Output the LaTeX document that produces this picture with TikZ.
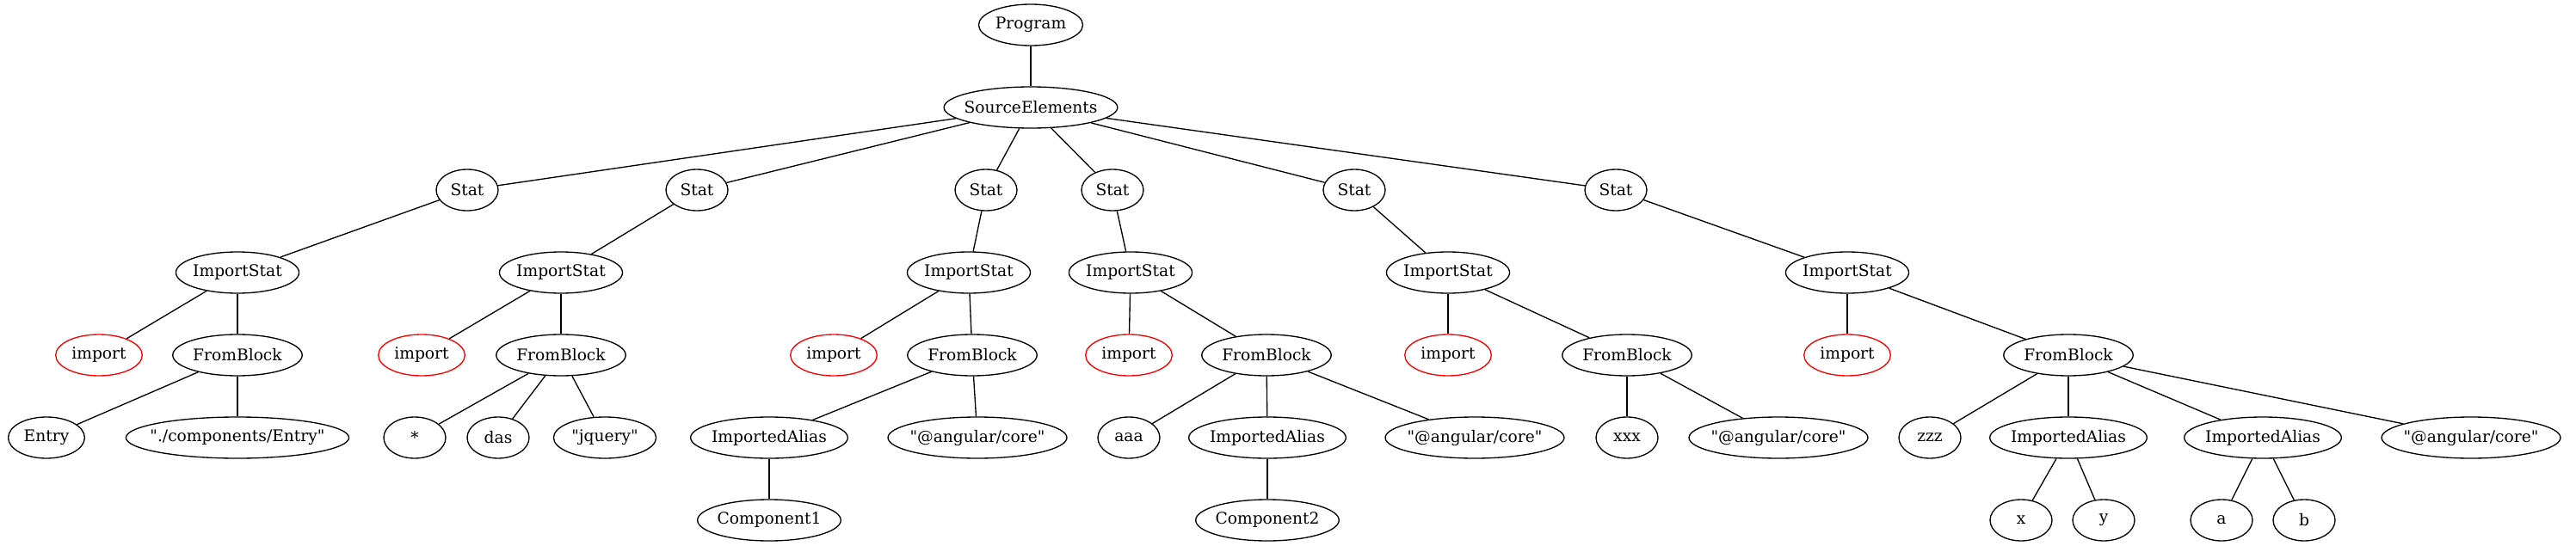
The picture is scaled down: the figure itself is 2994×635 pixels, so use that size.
\documentclass[tikz,border=0pt]{standalone}
\usepackage{fontspec}
\setmainfont{DejaVu Serif}[Ligatures=TeXOff]
\newfontfamily\tms{Liberation Serif}[Ligatures=TeXOff]
\usetikzlibrary{shapes.geometric}
% label set in DejaVu Serif on a box as wide as in Times
\newlength\lblw
\newcommand\lbl[1]{\settowidth\lblw{\tms #1}\makebox[\lblw]{#1}}
\begin{document}
\begin{tikzpicture}[x=0.75pt, y=-0.75pt, line width=1pt, font=\fontsize{14pt}{16pt}\selectfont]
    \tikzstyle{tn}=[draw, ellipse, inner xsep=8pt, inner ysep=4pt, minimum width=54pt, minimum height=36pt]
    \tikzstyle{kw}=[tn, draw=red]
    \useasboundingbox (0, 0) rectangle (2994, 635);

    % top of the tree
    \node[tn] (prog) at (1198, 29) {\lbl{Program}};
    \node[tn] (src) at (1198, 125) {\lbl{SourceElements}};

    \foreach \i/\x in {1/543, 2/810, 3/1146, 4/1293, 5/1574, 6/1878} {
        \node[tn] (s\i) at (\x, 221) {\lbl{Stat}};
    }
    \foreach \i/\x in {1/276, 2/652, 3/1126, 4/1314, 5/1683, 6/2147} {
        \node[tn] (is\i) at (\x, 317) {\lbl{ImportStat}};
    }
    \foreach \i/\x/\z in {1/115/276, 2/490/652, 3/969/1130, 4/1312/1472, 5/1683/1891, 6/2147/2404} {
        \node[kw] (imp\i) at (\x, 413) {\lbl{import}};
        \node[tn] (fb\i) at (\z, 413) {\lbl{FromBlock}};
    }

    % leaves
    \node[tn] (entry) at (54, 509) {\lbl{Entry}};
    \node[tn] (path) at (276, 509) {\lbl{"./components/Entry"}};
    \node[tn] (star) at (482, 509) {\lbl{*}};
    \node[tn] (das) at (579, 509) {\lbl{das}};
    \node[tn] (jq) at (703, 509) {\lbl{"jquery"}};
    \node[tn] (ia1) at (894, 509) {\lbl{ImportedAlias}};
    \node[tn] (ng1) at (1136, 509) {\lbl{"@angular/core"}};
    \node[tn] (aaa) at (1312, 509) {\lbl{aaa}};
    \node[tn] (ia2) at (1473, 509) {\lbl{ImportedAlias}};
    \node[tn] (ng2) at (1714, 509) {\lbl{"@angular/core"}};
    \node[tn] (xxx) at (1891, 509) {\lbl{xxx}};
    \node[tn] (ng3) at (2067, 509) {\lbl{"@angular/core"}};
    \node[tn] (zzz) at (2243, 509) {\lbl{zzz}};
    \node[tn] (ia3) at (2404, 509) {\lbl{ImportedAlias}};
    \node[tn] (ia4) at (2630, 509) {\lbl{ImportedAlias}};
    \node[tn] (ng4) at (2872, 509) {\lbl{"@angular/core"}};

    \node[tn] (c1) at (894, 605) {\lbl{Component1}};
    \node[tn] (c2) at (1473, 605) {\lbl{Component2}};
    \node[tn] (vx) at (2349, 605) {\lbl{x}};
    \node[tn] (vy) at (2445, 605) {\lbl{y}};
    \node[tn] (va) at (2582, 605) {\lbl{a}};
    \node[tn] (vb) at (2678, 605) {\lbl{b}};

    % edges
    \draw (prog) -- (src);
    \foreach \i in {1,...,6} {
        \draw (src) -- (s\i);
        \draw (s\i) -- (is\i);
        \draw (is\i) -- (imp\i);
        \draw (is\i) -- (fb\i);
    }
    \foreach \a/\b in {fb1/entry, fb1/path, fb2/star, fb2/das, fb2/jq, fb3/ia1, fb3/ng1, ia1/c1,
                       fb4/aaa, fb4/ia2, fb4/ng2, ia2/c2, fb5/xxx, fb5/ng3,
                       fb6/zzz, fb6/ia3, fb6/ia4, fb6/ng4, ia3/vx, ia3/vy, ia4/va, ia4/vb} {
        \draw (\a) -- (\b);
    }
\end{tikzpicture}
\end{document}
